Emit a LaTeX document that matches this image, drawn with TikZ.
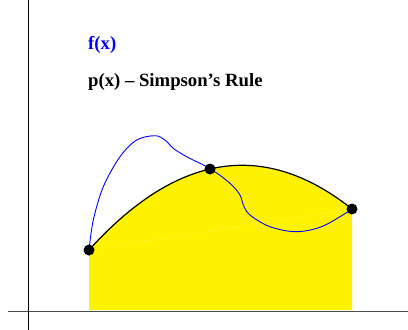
\documentclass[tikz,border=0pt]{standalone}
\usepackage{fontspec}
\setmainfont{Liberation Serif}
\begin{document}
\begin{tikzpicture}[x=1pt,y=-1pt,
  dot/.style={circle,fill=black,inner sep=0pt,minimum size=11pt},
  lbl/.style={anchor=base west,inner sep=0pt,font=\fontsize{18.7}{20}\selectfont\bfseries},
  axis/.style={line width=1pt},
  fcurve/.style={blue,line width=0.9pt},
  pcurve/.style={black,line width=1.2pt}]
\useasboundingbox (0,0) rectangle (408,330);
\coordinate (p0) at (89,250);
\coordinate (p1) at (210,169);
\coordinate (p2) at (352,209);
\coordinate (b0) at (89,310);
\coordinate (b2) at (352,310);
% yellow area
\fill[yellow] (b0) -- (p0) -- plot[domain=89:352,samples=80] (\x,{169+0.0036165*(\x-210)*(\x-210)-0.23182*(\x-210)}) -- (b2) -- cycle;
\draw[white,opacity=0.45,line width=0.4pt,dashed] (p0) -- (p2);
% axes
\coordinate (ax0) at (8,311);
\coordinate (ax1) at (408,311);
\coordinate (ay0) at (28,0);
\coordinate (ay1) at (28,330);
\draw[axis,black!70] (ax0) -- (ax1);
\draw[axis,black] (ay0) -- (ay1);
% parabola
\draw[pcurve] plot[domain=89:352,samples=80] (\x,{169+0.0036165*(\x-210)*(\x-210)-0.23182*(\x-210)});
% f(x)
\draw[fcurve] plot[smooth,tension=0.55] coordinates {(89,250) (93.3,220) (103.3,186.7) (120,156.7) (136.7,140) (155,135.7) (165,140) (173.3,148.3) (186.7,156.7) (210.7,169) (230,183.3) (240,195) (243.3,205) (250,215) (270,226.7) (296.7,231.7) (323.3,226) (352,209)};
\node[dot] (n0) at (p0) {};
\node[dot] (n1) at (p1) {};
\node[dot] (n2) at (p2) {};
\node[lbl,blue] (tf) at (88,49) {f(x)};
\node[lbl] (tp) at (88,86) {p(x) – Simpson’s Rule};
\end{tikzpicture}
\end{document}
